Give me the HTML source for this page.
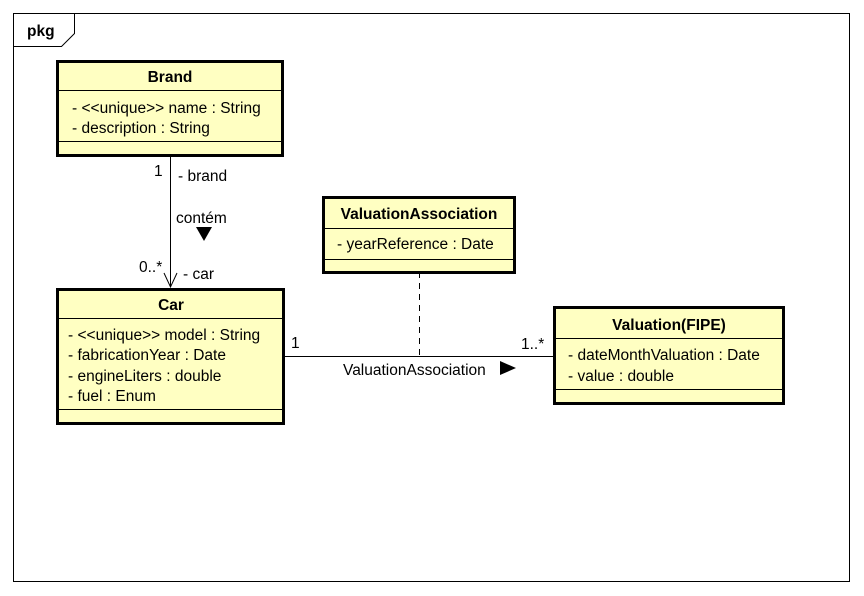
<!DOCTYPE html>
<html><head><meta charset="utf-8"><style>
html,body{margin:0;padding:0;background:#fff;}
svg{display:block;}
text{font-family:"Liberation Sans",Arial,sans-serif;font-size:15.5px;fill:#000;}
.b{font-weight:bold;}
</style></head><body>
<svg width="864" height="596" viewBox="0 0 864 596">
<rect x="13.5" y="13.5" width="836" height="568" fill="#fff" stroke="#000" stroke-width="1"/>
<path d="M13.5 46.5 H61.5 L74.5 33.5 V13.5" fill="none" stroke="#000"/>
<text x="27" y="36" class="b">pkg</text>

<line x1="170.5" y1="156" x2="170.5" y2="287" stroke="#000"/>
<path d="M164 273 L170.5 287 L177 273" fill="none" stroke="#000"/>
<polygon points="196,227 212,227 204,241" fill="#000"/>
<text x="154" y="176">1</text>
<text x="178" y="181">- brand</text>
<text x="176" y="223">contém</text>
<text x="139" y="272">0..*</text>
<text x="183" y="279">- car</text>

<line x1="284" y1="356.5" x2="554" y2="356.5" stroke="#000"/>
<line x1="419.5" y1="272" x2="419.5" y2="356" stroke="#000" stroke-dasharray="6,5"/>
<text x="291" y="348">1</text>
<text x="521" y="349">1..*</text>
<text x="343" y="375">ValuationAssociation</text>
<polygon points="500,361 516,368 500,375" fill="#000"/>

<rect x="57.5" y="61.5" width="225" height="94" fill="#ffffc2" stroke="#000" stroke-width="3"/>
<line x1="57" y1="90.5" x2="283" y2="90.5" stroke="#000"/>
<line x1="57" y1="141.5" x2="283" y2="141.5" stroke="#000"/>
<text x="170" y="82" class="b" text-anchor="middle">Brand</text>
<text x="72" y="113">- &lt;&lt;unique&gt;&gt; name : String</text>
<text x="72" y="133">- description : String</text>

<rect x="57.5" y="289.5" width="226" height="134" fill="#ffffc2" stroke="#000" stroke-width="3"/>
<line x1="57" y1="318.5" x2="284" y2="318.5" stroke="#000"/>
<line x1="57" y1="409.5" x2="284" y2="409.5" stroke="#000"/>
<text x="171" y="310" class="b" text-anchor="middle">Car</text>
<text x="68" y="340">- &lt;&lt;unique&gt;&gt; model : String</text>
<text x="68" y="360">- fabricationYear : Date</text>
<text x="68" y="381">- engineLiters : double</text>
<text x="68" y="401">- fuel : Enum</text>

<rect x="323.5" y="197.5" width="191" height="75" fill="#ffffc2" stroke="#000" stroke-width="3"/>
<line x1="323" y1="228.5" x2="515" y2="228.5" stroke="#000"/>
<line x1="323" y1="259.5" x2="515" y2="259.5" stroke="#000"/>
<text x="419" y="219" class="b" text-anchor="middle">ValuationAssociation</text>
<text x="337" y="249">- yearReference : Date</text>

<rect x="554.5" y="307.5" width="229" height="96" fill="#ffffc2" stroke="#000" stroke-width="3"/>
<line x1="554" y1="338.5" x2="784" y2="338.5" stroke="#000"/>
<line x1="554" y1="389.5" x2="784" y2="389.5" stroke="#000"/>
<text x="669" y="330" class="b" text-anchor="middle">Valuation(FIPE)</text>
<text x="568" y="360">- dateMonthValuation : Date</text>
<text x="568" y="381">- value : double</text>
</svg>
</body></html>
